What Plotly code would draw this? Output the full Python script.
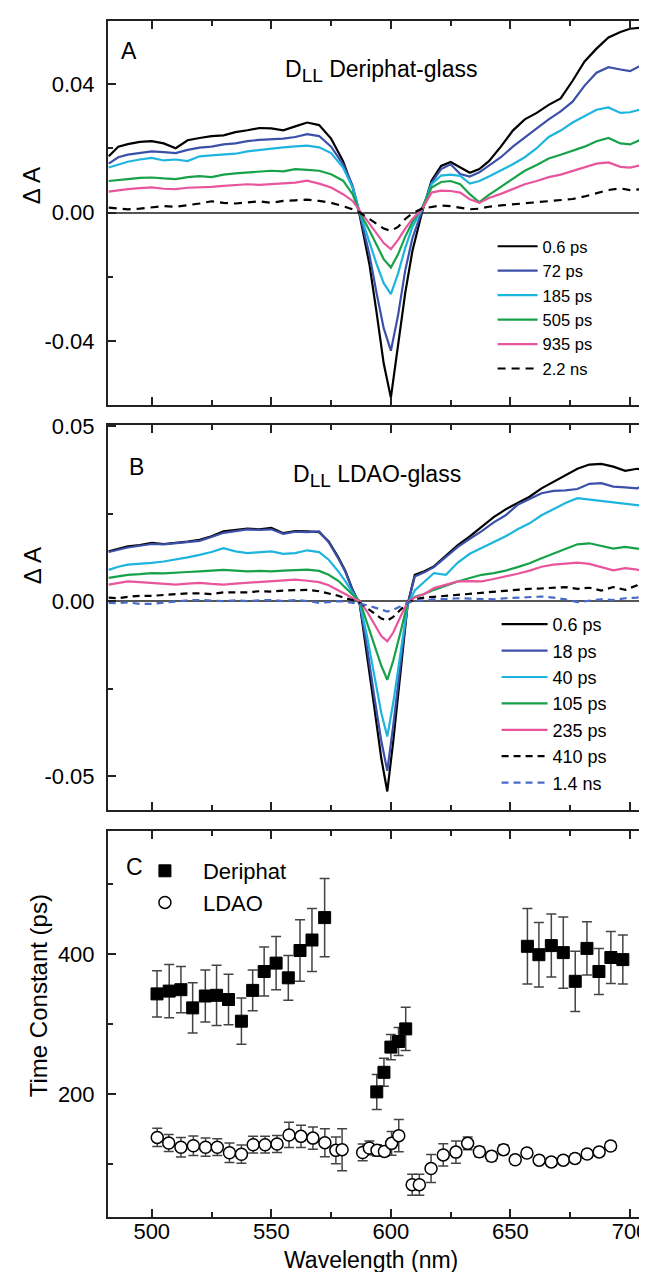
import plotly.graph_objects as go

# ---------------- Panel A : D_LL Deriphat-glass ----------------
wl_A = [482, 486, 490, 495, 500, 505, 510, 515, 520, 525, 530, 535, 540, 545, 550, 555,
        560, 565, 570, 575, 580, 584, 587, 591, 594, 597, 600, 603, 606, 609, 613, 617,
        621, 625, 629, 633, 637, 641, 646, 651, 656, 661, 666, 671, 676, 681, 686, 691,
        696, 700, 704, 708]
A_0p6ps = [0.0175, 0.0205, 0.0213, 0.0220, 0.0222, 0.0215, 0.0200, 0.0225, 0.0232, 0.0238,
           0.0240, 0.0250, 0.0256, 0.0263, 0.0262, 0.0256, 0.0268, 0.0280, 0.0272, 0.0230,
           0.0160, 0.0078, -0.0010, -0.0160, -0.0310, -0.0470, -0.0576, -0.0420, -0.0250,
           -0.0120, 0.0000, 0.0099, 0.0145, 0.0157, 0.0140, 0.0124, 0.0135, 0.0160, 0.0205,
           0.0255, 0.0290, 0.0310, 0.0335, 0.0355, 0.0410, 0.0470, 0.0510, 0.0545, 0.0562,
           0.0572, 0.0575, 0.0590]
A_72ps = [0.0152, 0.0172, 0.0180, 0.0185, 0.0190, 0.0188, 0.0185, 0.0195, 0.0202, 0.0205,
          0.0212, 0.0215, 0.0222, 0.0226, 0.0228, 0.0230, 0.0235, 0.0244, 0.0238, 0.0205,
          0.0150, 0.0084, -0.0005, -0.0130, -0.0250, -0.0360, -0.0430, -0.0320, -0.0180,
          -0.0080, 0.0005, 0.0093, 0.0135, 0.0150, 0.0120, 0.0112, 0.0125, 0.0145, 0.0172,
          0.0205, 0.0235, 0.0262, 0.0290, 0.0315, 0.0345, 0.0395, 0.0435, 0.0452, 0.0445,
          0.0440, 0.0455, 0.0490]
A_185ps = [0.0140, 0.0150, 0.0158, 0.0165, 0.0170, 0.0162, 0.0165, 0.0160, 0.0175, 0.0178,
           0.0180, 0.0183, 0.0190, 0.0195, 0.0200, 0.0203, 0.0206, 0.0208, 0.0203, 0.0185,
           0.0140, 0.0078, 0.0000, -0.0090, -0.0160, -0.0220, -0.0254, -0.0190, -0.0110,
           -0.0045, 0.0010, 0.0088, 0.0115, 0.0118, 0.0114, 0.0090, 0.0098, 0.0112, 0.0130,
           0.0150, 0.0172, 0.0200, 0.0235, 0.0255, 0.0280, 0.0300, 0.0320, 0.0327, 0.0310,
           0.0312, 0.0320, 0.0310]
A_505ps = [0.0098, 0.0102, 0.0104, 0.0108, 0.0109, 0.0106, 0.0104, 0.0110, 0.0113, 0.0110,
           0.0118, 0.0122, 0.0124, 0.0127, 0.0130, 0.0128, 0.0135, 0.0133, 0.0130, 0.0119,
           0.0099, 0.0057, 0.0000, -0.0055, -0.0100, -0.0145, -0.0171, -0.0130, -0.0075,
           -0.0030, 0.0015, 0.0078, 0.0095, 0.0098, 0.0088, 0.0057, 0.0032, 0.0055, 0.0080,
           0.0105, 0.0130, 0.0148, 0.0168, 0.0180, 0.0192, 0.0205, 0.0222, 0.0232, 0.0215,
           0.0212, 0.0225, 0.0218]
A_935ps = [0.0065, 0.0070, 0.0073, 0.0076, 0.0078, 0.0074, 0.0073, 0.0077, 0.0078, 0.0080,
           0.0083, 0.0085, 0.0088, 0.0086, 0.0088, 0.0090, 0.0093, 0.0099, 0.0090, 0.0078,
           0.0057, 0.0036, 0.0005, -0.0035, -0.0065, -0.0095, -0.0114, -0.0085, -0.0050,
           -0.0020, 0.0010, 0.0062, 0.0068, 0.0067, 0.0062, 0.0041, 0.0030, 0.0045, 0.0058,
           0.0072, 0.0088, 0.0098, 0.0110, 0.0118, 0.0130, 0.0142, 0.0152, 0.0156, 0.0142,
           0.0140, 0.0146, 0.0140]
A_2p2ns = [0.0015, 0.0012, 0.0010, 0.0012, 0.0015, 0.0020, 0.0018, 0.0022, 0.0028, 0.0035,
           0.0030, 0.0028, 0.0032, 0.0035, 0.0030, 0.0036, 0.0038, 0.0040, 0.0036, 0.0030,
           0.0020, 0.0010, 0.0000, -0.0020, -0.0035, -0.0050, -0.0057, -0.0045, -0.0020,
           -0.0002, 0.0012, 0.0018, 0.0022, 0.0020, 0.0015, 0.0010, 0.0012, 0.0018, 0.0022,
           0.0025, 0.0030, 0.0033, 0.0036, 0.0038, 0.0042, 0.0050, 0.0060, 0.0070, 0.0075,
           0.0070, 0.0072, 0.0075]
labels_A = ["0.6 ps", "72 ps", "185 ps", "505 ps", "935 ps", "2.2 ns"]

# ---------------- Panel B : D_LL LDAO-glass ----------------
wl_B = [482, 486, 490, 495, 500, 505, 510, 515, 520, 525, 530, 535, 540, 545, 550, 555,
        560, 565, 570, 574, 578, 581, 584, 587, 590, 593, 596, 598.5, 601, 604, 607, 610,
        614, 618, 623, 628, 633, 638, 643, 648, 653, 658, 663, 668, 673, 678, 683, 688,
        693, 698, 703, 708]
B_0p6ps = [0.0142, 0.0148, 0.0156, 0.0160, 0.0166, 0.0163, 0.0166, 0.0170, 0.0175, 0.0185,
           0.0199, 0.0203, 0.0207, 0.0205, 0.0209, 0.0194, 0.0200, 0.0199, 0.0197, 0.0170,
           0.0125, 0.0085, 0.0032, -0.0010, -0.0150, -0.0300, -0.0450, -0.0544, -0.0400,
           -0.0200, -0.0010, 0.0075, 0.0085, 0.0099, 0.0130, 0.0160, 0.0185, 0.0212, 0.0240,
           0.0262, 0.0280, 0.0298, 0.0322, 0.0340, 0.0360, 0.0378, 0.0390, 0.0392, 0.0384,
           0.0372, 0.0378, 0.0372]
B_18ps = [0.0140, 0.0146, 0.0153, 0.0158, 0.0163, 0.0162, 0.0165, 0.0168, 0.0172, 0.0183,
          0.0195, 0.0200, 0.0205, 0.0203, 0.0205, 0.0192, 0.0198, 0.0197, 0.0199, 0.0168,
          0.0122, 0.0083, 0.0030, -0.0010, -0.0130, -0.0270, -0.0400, -0.0485, -0.0355,
          -0.0180, -0.0010, 0.0070, 0.0082, 0.0097, 0.0125, 0.0155, 0.0178, 0.0200, 0.0225,
          0.0245, 0.0275, 0.0292, 0.0308, 0.0315, 0.0316, 0.0320, 0.0335, 0.0337, 0.0327,
          0.0325, 0.0322, 0.0337]
B_40ps = [0.0089, 0.0098, 0.0104, 0.0106, 0.0109, 0.0113, 0.0118, 0.0125, 0.0132, 0.0140,
          0.0151, 0.0142, 0.0137, 0.0140, 0.0142, 0.0135, 0.0137, 0.0145, 0.0140, 0.0118,
          0.0085, 0.0056, 0.0023, -0.0005, -0.0100, -0.0210, -0.0320, -0.0387, -0.0290,
          -0.0150, -0.0010, 0.0030, 0.0055, 0.0080, 0.0075, 0.0110, 0.0135, 0.0152, 0.0168,
          0.0185, 0.0205, 0.0222, 0.0245, 0.0262, 0.0280, 0.0294, 0.0290, 0.0285, 0.0280,
          0.0276, 0.0272, 0.0270]
B_105ps = [0.0066, 0.0070, 0.0075, 0.0077, 0.0080, 0.0079, 0.0080, 0.0083, 0.0085, 0.0087,
           0.0089, 0.0087, 0.0085, 0.0086, 0.0085, 0.0087, 0.0089, 0.0090, 0.0086, 0.0075,
           0.0058, 0.0037, 0.0018, 0.0000, -0.0060, -0.0120, -0.0185, -0.0225, -0.0170,
           -0.0090, -0.0005, 0.0012, 0.0020, 0.0032, 0.0045, 0.0056, 0.0066, 0.0075, 0.0080,
           0.0087, 0.0097, 0.0108, 0.0122, 0.0135, 0.0150, 0.0162, 0.0165, 0.0158, 0.0150,
           0.0155, 0.0150, 0.0142]
B_235ps = [0.0047, 0.0052, 0.0056, 0.0054, 0.0052, 0.0050, 0.0047, 0.0050, 0.0052, 0.0049,
           0.0047, 0.0050, 0.0052, 0.0054, 0.0056, 0.0058, 0.0061, 0.0058, 0.0054, 0.0045,
           0.0030, 0.0018, 0.0009, 0.0000, -0.0030, -0.0065, -0.0100, -0.0115, -0.0090,
           -0.0045, -0.0003, 0.0010, 0.0020, 0.0037, 0.0047, 0.0056, 0.0057, 0.0056, 0.0063,
           0.0070, 0.0078, 0.0087, 0.0098, 0.0104, 0.0108, 0.0110, 0.0106, 0.0098, 0.0088,
           0.0094, 0.0090, 0.0075]
B_410ps = [0.0010, 0.0008, 0.0012, 0.0015, 0.0015, 0.0018, 0.0020, 0.0022, 0.0022, 0.0020,
           0.0025, 0.0024, 0.0025, 0.0028, 0.0027, 0.0030, 0.0030, 0.0032, 0.0028, 0.0022,
           0.0015, 0.0008, 0.0003, -0.0005, -0.0020, -0.0035, -0.0050, -0.0056, -0.0045,
           -0.0025, -0.0005, 0.0005, 0.0010, 0.0012, 0.0015, 0.0018, 0.0020, 0.0025, 0.0028,
           0.0030, 0.0032, 0.0035, 0.0036, 0.0038, 0.0040, 0.0035, 0.0038, 0.0030, 0.0040,
           0.0032, 0.0045, 0.0075]
B_1p4ns = [-0.0005, -0.0006, -0.0004, -0.0008, -0.0008, -0.0004, 0.0000, 0.0002, 0.0003,
           0.0001, 0.0000, 0.0002, 0.0000, 0.0002, 0.0003, 0.0000, 0.0003, 0.0000, -0.0005,
           -0.0003, 0.0000, -0.0002, -0.0005, -0.0008, -0.0012, -0.0018, -0.0025, -0.0030,
           -0.0025, -0.0015, -0.0005, 0.0000, 0.0003, 0.0005, 0.0006, 0.0008, 0.0007, 0.0005,
           0.0005, 0.0008, 0.0010, 0.0012, 0.0013, 0.0010, 0.0005, -0.0003, 0.0000, 0.0005,
           0.0003, 0.0008, 0.0010, 0.0020]
labels_B = ["0.6 ps", "18 ps", "40 ps", "105 ps", "235 ps", "410 ps", "1.4 ns"]

# ---------------- Panel C : time constants ----------------
deriphat_wl = [502.2, 507.3, 512.2, 517.1, 522.4, 527.1, 532.1, 537.5, 542.2, 547.0, 552.0,
               557.1, 562.0, 567.0, 572.3,
               594.1, 597.1, 600.0, 603.2, 606.2,
               657.1, 661.9, 667.1, 672.1, 677.1, 682.0, 687.0, 692.0, 697.0]
deriphat_tau = [343, 347, 349, 323, 340, 341, 335, 304, 348, 375, 387, 366, 405, 420, 452,
                203, 231, 267, 275, 293,
                411, 399, 412, 402, 361, 408, 375, 395, 392]
deriphat_err = [33, 38, 33, 36, 37, 43, 36, 33, 29, 35, 38, 32, 44, 45, 56,
                25, 20, 18, 20, 31,
                54, 46, 45, 51, 43, 38, 33, 37, 35]

ldao_wl = [502.3, 507.1, 512.2, 517.4, 522.5, 527.4, 532.5, 537.5, 542.4, 547.4, 552.4,
           557.4, 562.4, 567.4, 572.4, 577.0, 579.6,
           588.2, 591.0, 594.2, 597.3, 600.3, 603.3,
           608.9, 611.9, 616.8, 621.9, 627.2, 632.1, 637.0, 642.1, 647.1, 652.0, 656.9,
           662.0, 667.1, 672.1, 677.0, 682.1, 687.1, 691.9]
ldao_tau = [138, 130, 124, 126, 124, 124, 116, 114, 127.6, 127.6, 128.6, 141.5, 139.5, 137,
            130.5, 119.5, 120.5,
            116.5, 122.9, 119.5, 118, 129.5, 140.5,
            70.5, 70.5, 93.7, 113, 117, 129.5, 117.5, 111, 120.5, 106, 115.7, 105.5, 103,
            105.5, 108, 114.4, 117.3, 125.8]
ldao_err = [13, 12, 14, 14, 13, 12, 14, 13, 12, 12, 12, 18, 16, 16, 20, 19, 30,
            12, 10, 8, 7, 17, 23,
            15, 15, 20, 16, 16, 9, 7, 7, 7, 6, 6, 6, 6, 6, 6, 6, 6, 6]

# ---------------- styling ----------------
colors_A = ["#000000", "#3B50A8", "#1DB4DE", "#17A24A", "#E8559D", "#000000"]
dash_A = ["solid", "solid", "solid", "solid", "solid", "8px,6px"]
colors_B = ["#000000", "#3B50A8", "#1DB4DE", "#17A24A", "#E8559D", "#000000", "#4A6CC8"]
dash_B = ["solid", "solid", "solid", "solid", "solid", "7px,5px", "7px,5px"]

FONT = "Liberation Sans, Arial, sans-serif"
W, H = 647, 1272
ML, MR, MT, MB = 100, 1, 13, 63
PW, PH = W - ML - MR, H - MT - MB


def px_x(px):
    return (px - ML) / PW


def px_y(py):
    return (H - MB - py) / PH


fig = go.Figure()

series_A = [A_0p6ps, A_72ps, A_185ps, A_505ps, A_935ps, A_2p2ns]
for vals, name, col, dsh in zip(series_A, labels_A, colors_A, dash_A):
    fig.add_trace(go.Scatter(x=wl_A, y=vals, mode="lines", name=name,
                             line=dict(color=col, width=2.2, dash=dsh),
                             xaxis="x", yaxis="y", legend="legend"))

series_B = [B_0p6ps, B_18ps, B_40ps, B_105ps, B_235ps, B_410ps, B_1p4ns]
for vals, name, col, dsh in zip(series_B, labels_B, colors_B, dash_B):
    fig.add_trace(go.Scatter(x=wl_B, y=vals, mode="lines", name=name,
                             line=dict(color=col, width=2.2, dash=dsh),
                             xaxis="x2", yaxis="y2", legend="legend2"))

fig.add_trace(go.Scatter(x=deriphat_wl, y=deriphat_tau, mode="markers", name="Deriphat",
                         marker=dict(symbol="square", size=12, color="black",
                                     line=dict(color="black", width=1)),
                         error_y=dict(type="data", array=deriphat_err, color="#444",
                                      thickness=1.5, width=5),
                         xaxis="x3", yaxis="y3", legend="legend3"))
fig.add_trace(go.Scatter(x=ldao_wl, y=ldao_tau, mode="markers", name="LDAO",
                         marker=dict(symbol="circle", size=12, color="white",
                                     line=dict(color="black", width=1.5)),
                         error_y=dict(type="data", array=ldao_err, color="#444",
                                      thickness=1.5, width=5),
                         xaxis="x3", yaxis="y3", legend="legend3"))

XR = [481.7, 709.2]
MINOR = dict(ticks="inside", ticklen=5, tickwidth=1.5, tickcolor="#222")
common_ax = dict(showline=True, linecolor="#222", linewidth=2, mirror="allticks",
                 ticks="inside", ticklen=8, tickwidth=1.5, tickcolor="#222",
                 showgrid=False, tickfont=dict(family=FONT, size=22, color="black"))
xa = dict(range=XR, tickvals=[500, 550, 600, 650, 700],
          minor=dict(tickvals=[525, 575, 625, 675], **MINOR),
          zeroline=False, **common_ax)

fig.update_layout(
    width=W, height=H, margin=dict(l=ML, r=MR, t=MT, b=MB),
    paper_bgcolor="white", plot_bgcolor="white",
    font=dict(family=FONT, color="black"),
    xaxis=dict(anchor="y", domain=[0, 1], showticklabels=False, **xa),
    xaxis2=dict(anchor="y2", domain=[0, 1], showticklabels=False, **xa),
    xaxis3=dict(anchor="y3", domain=[0, 1], showticklabels=True, ticklabelstandoff=-6, **xa),
    yaxis=dict(anchor="x", domain=[px_y(397), px_y(13)], range=[-0.0599, 0.0596],
               tickvals=[-0.04, 0.0, 0.04], ticktext=["-0.04", "0.00", "0.04"],
               minor=dict(tickvals=[-0.02, 0.02], **MINOR),
               zeroline=True, zerolinecolor="#555", zerolinewidth=1.5,
               ticklabelstandoff=7, **common_ax),
    yaxis2=dict(anchor="x2", domain=[px_y(802), px_y(417)], range=[-0.0597, 0.0503],
                tickvals=[-0.05, 0.0, 0.05], ticktext=["-0.05", "0.00", "0.05"],
                minor=dict(tickvals=[-0.025, 0.025], **MINOR),
                zeroline=True, zerolinecolor="#555", zerolinewidth=1.5,
                ticklabelstandoff=7, **common_ax),
    yaxis3=dict(anchor="x3", domain=[0, px_y(823)], range=[24.3, 575.7],
                tickvals=[200, 400],
                minor=dict(tickvals=[100, 300, 500], **MINOR),
                zeroline=False, ticklabelstandoff=7, **common_ax),
    legend=dict(x=px_x(486), y=px_y(221), xanchor="left", yanchor="top",
                bgcolor="rgba(0,0,0,0)", font=dict(family=FONT, size=16.5, color="black"),
                itemwidth=40, tracegroupgap=0),
    legend2=dict(x=px_x(490), y=px_y(598), xanchor="left", yanchor="top",
                 bgcolor="rgba(0,0,0,0)", font=dict(family=FONT, size=18, color="black"),
                 itemwidth=46, tracegroupgap=0),
    legend3=dict(x=px_x(119), y=px_y(842), xanchor="left", yanchor="top",
                 bgcolor="rgba(0,0,0,0)", font=dict(family=FONT, size=22, color="black"),
                 itemwidth=66, tracegroupgap=0),
    showlegend=True,
)

SUB = "<sub><span style='font-size:19px'>LL</span></sub>"
annots = [
    dict(text="A", x=px_x(121), y=px_y(43), size=23, xanchor="center", angle=0),
    dict(text="D" + SUB + " Deriphat-glass", x=px_x(276), y=px_y(63), size=23, xanchor="left", angle=0),
    dict(text="B", x=px_x(129), y=px_y(459), size=23, xanchor="center", angle=0),
    dict(text="D" + SUB + " LDAO-glass", x=px_x(284), y=px_y(468), size=23, xanchor="left", angle=0),
    dict(text="C", x=px_x(127), y=px_y(859), size=23, xanchor="center", angle=0),
    dict(text="Δ A", x=px_x(24), y=px_y(178), size=24, xanchor="center", angle=-90),
    dict(text="Δ A", x=px_x(24), y=px_y(558), size=24, xanchor="center", angle=-90),
    dict(text="Time Constant (ps)", x=px_x(30), y=px_y(988), size=24, xanchor="center", angle=-90),
    dict(text="Wavelength (nm)", x=px_x(364), y=px_y(1252), size=23, xanchor="center", angle=0),
]
for a in annots:
    fig.add_annotation(text=a["text"], x=a["x"], y=a["y"], xref="paper", yref="paper",
                       xanchor=a["xanchor"], yanchor="middle", textangle=a["angle"],
                       showarrow=False, font=dict(family=FONT, size=a["size"], color="black"))

fig.write_html("out.html")
